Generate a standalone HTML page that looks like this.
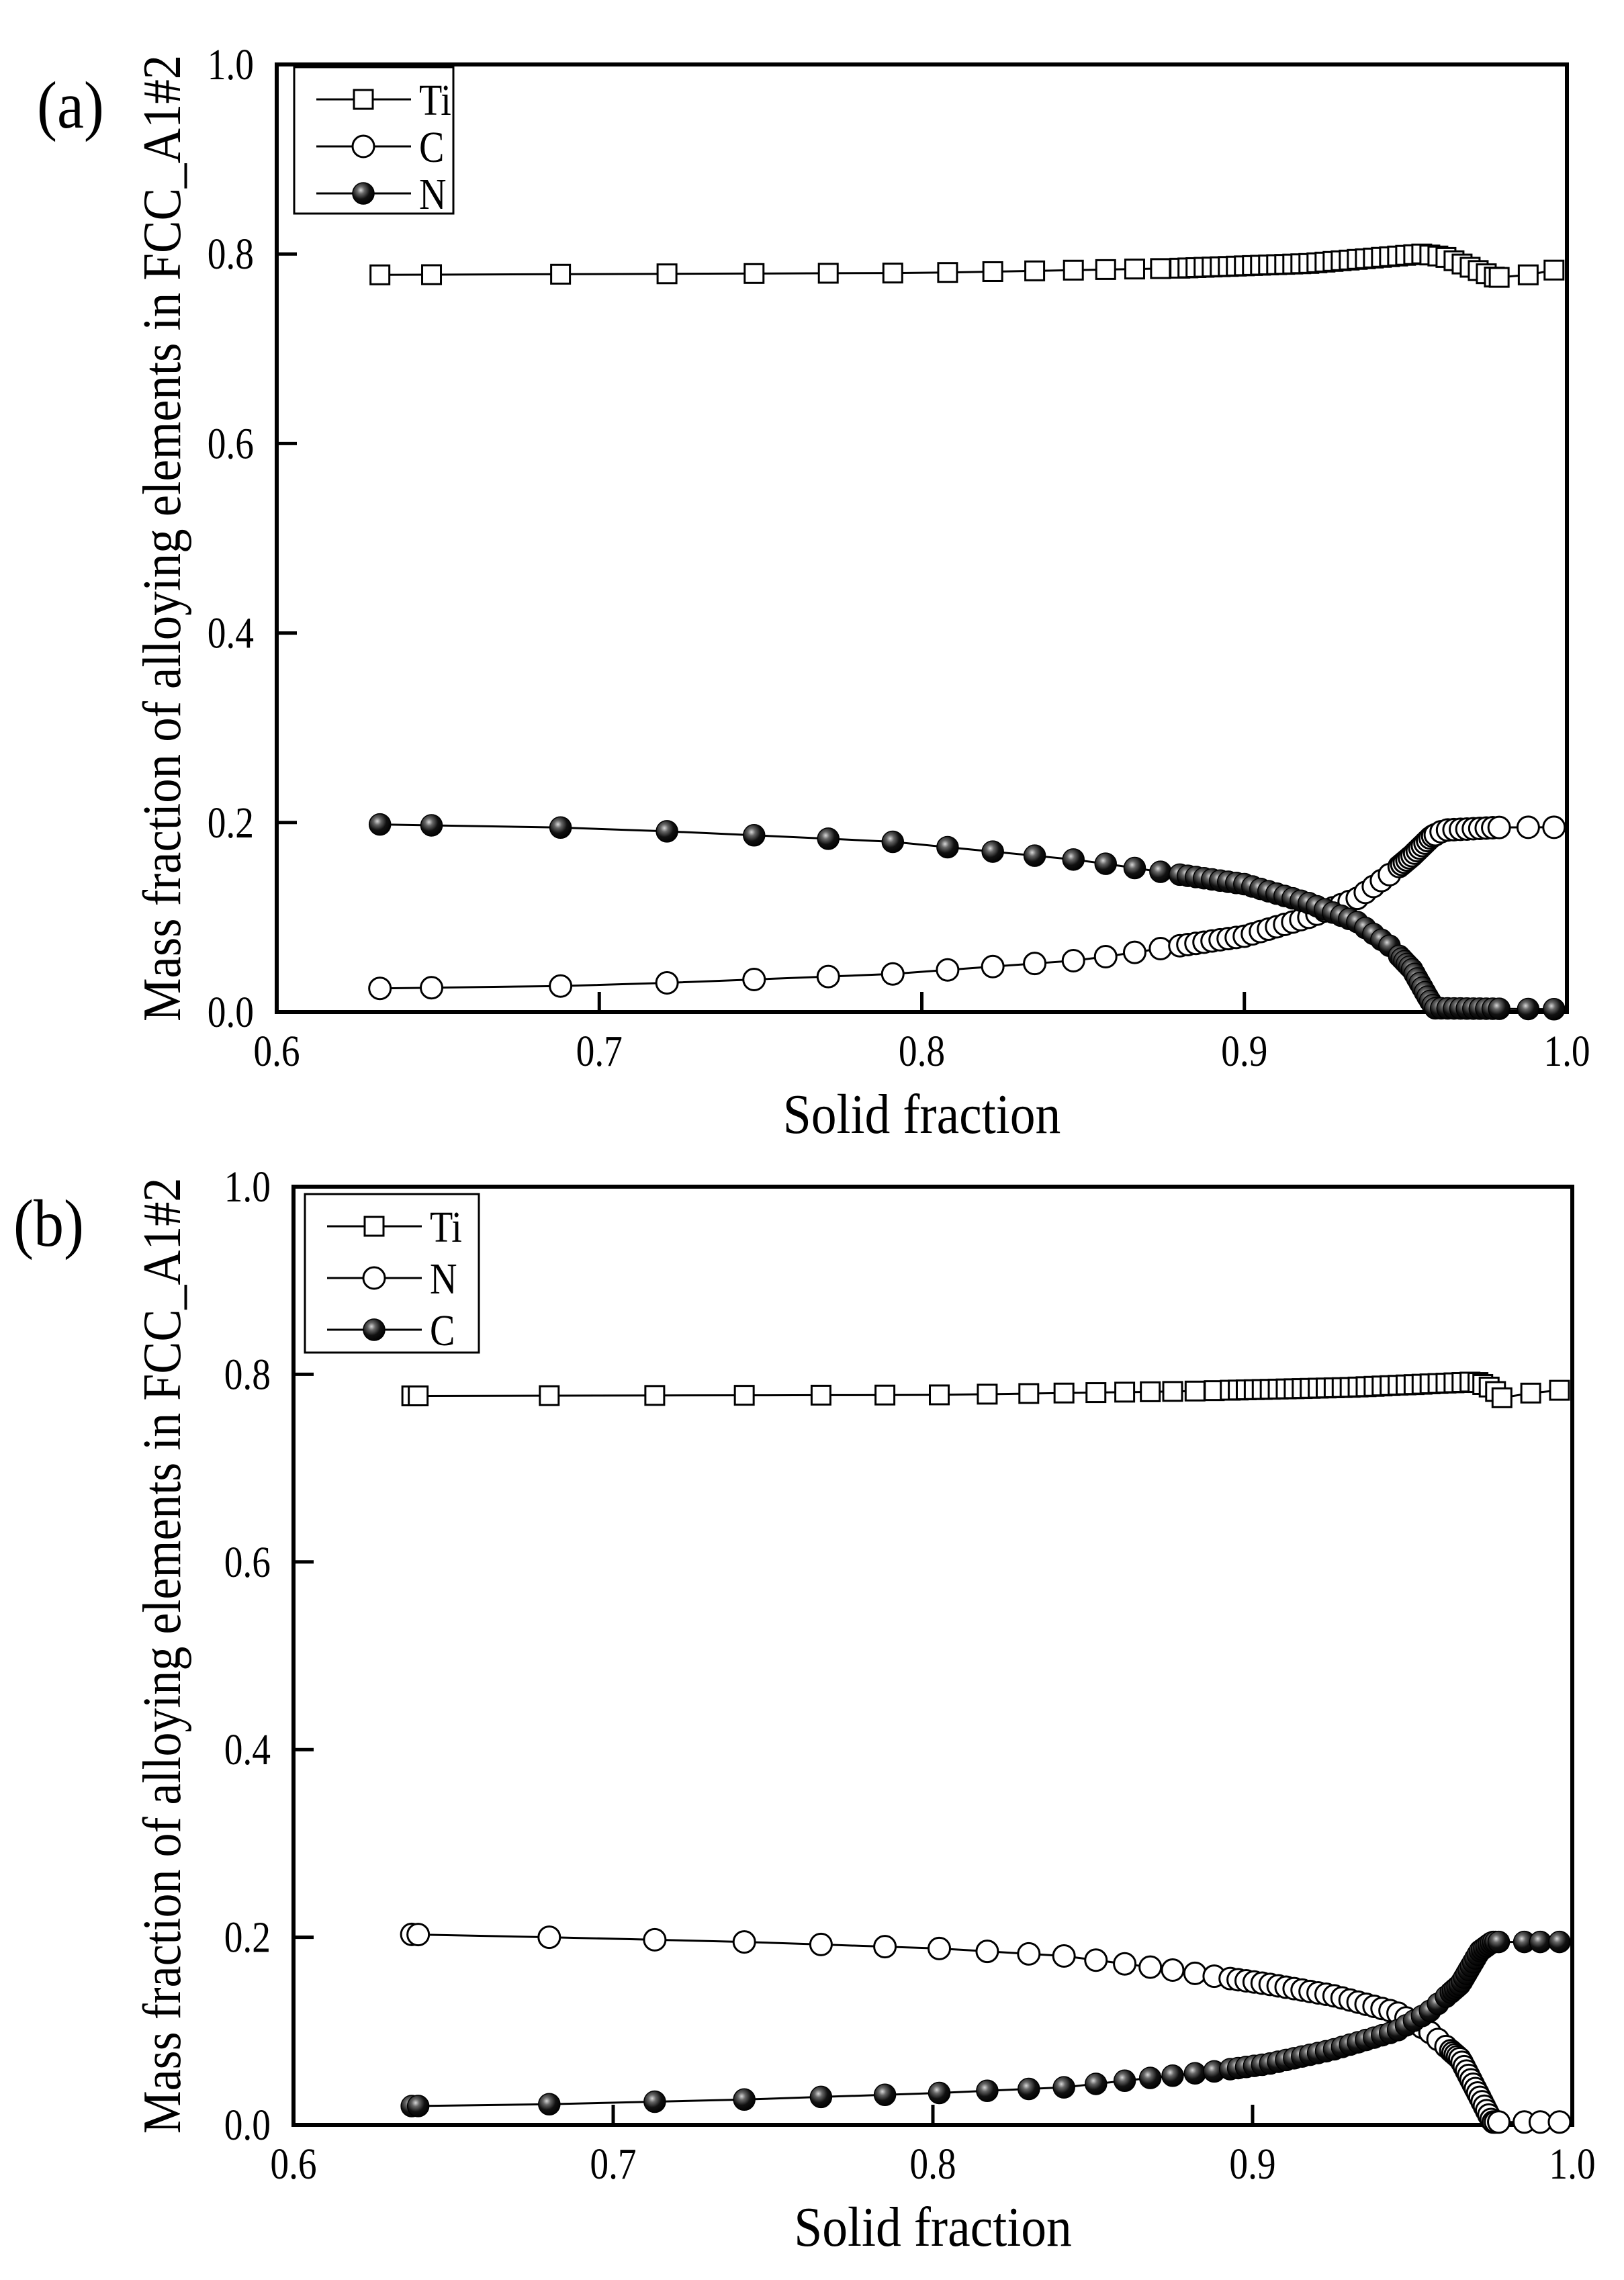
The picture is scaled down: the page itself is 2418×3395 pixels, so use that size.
<!DOCTYPE html>
<html><head><meta charset="utf-8">
<style>
html,body{margin:0;padding:0;background:#fff;}
svg{display:block;}
text{font-family:"Liberation Serif",serif;fill:#000;}
</style></head>
<body>
<svg id="s" width="2418" height="3395" viewBox="0 0 2418 3395" xmlns="http://www.w3.org/2000/svg">
<defs>
<radialGradient id="ball" cx="0.38" cy="0.35" r="0.7">
<stop offset="0" stop-color="#d8d8d8"/><stop offset="0.25" stop-color="#666"/><stop offset="0.6" stop-color="#111"/><stop offset="1" stop-color="#000"/>
</radialGradient>
</defs>
<g id="g"></g>
</svg>
<script>
var NS="http://www.w3.org/2000/svg",G=document.getElementById("g");
function el(t,a,txt){var e=document.createElementNS(NS,t);for(var k in a)e.setAttribute(k,a[k]);if(txt!==undefined)e.textContent=txt;G.appendChild(e);return e;}
function tx(x,y,s,fs,sx,anchor,rot){var tr="translate("+x+","+y+")"+(rot?" rotate(-90)":"")+" scale("+sx+",1)";
 return el("text",{x:0,y:0,"font-size":fs,"text-anchor":anchor||"start",transform:tr,"xml:space":"preserve"},s);}
function interp(anc,x){if(x<=anc[0][0])return anc[0][1];for(var i=1;i<anc.length;i++){if(x<=anc[i][0]){var a=anc[i-1],b=anc[i];return a[1]+(b[1]-a[1])*(x-a[0])/(b[0]-a[0]);}}return anc[anc.length-1][1];}
function marker(type,x,y){
 if(type=="sq")el("rect",{x:x-14,y:y-14,width:28,height:28,fill:"#fff",stroke:"#000","stroke-width":3});
 else if(type=="o")el("circle",{cx:x,cy:y,r:16,fill:"#fff",stroke:"#000","stroke-width":3});
 else el("circle",{cx:x,cy:y,r:16,fill:"url(#ball)",stroke:"#000","stroke-width":1.5});
}
function panel(P){
 var L=P.L,R=P.R,T=P.T,B=P.B;
 function X(v){return L+(v-0.6)/0.4*(R-L);} function Y(v){return B-v*(B-T);}
 el("rect",{x:L,y:T,width:R-L,height:B-T,fill:"none",stroke:"#000","stroke-width":6});
 for(var i=0;i<=5;i++){var v=i*0.2,y=Y(v);
  el("line",{x1:L,y1:y,x2:L+30,y2:y,stroke:"#000","stroke-width":5});
  tx(L-34,y+22,v.toFixed(1),66,0.84,"end");}
 for(var i=0;i<=4;i++){var v=0.6+i*0.1,x=X(v);
  el("line",{x1:x,y1:B,x2:x,y2:B-30,stroke:"#000","stroke-width":5});
  tx(x,B+80,v.toFixed(1),66,0.84,"middle");}
 tx((L+R)/2,B+180,"Solid fraction",84,0.9,"middle");
 tx(P.ylx,(T+B)/2,P.ylab,80,P.ysx,"middle",true);
 tx(P.lx,P.ly,P.lab,100,0.9,"start");
 P.series.forEach(function(s){
  var pts=s.xs.map(function(x){return [X(x),Y(interp(s.anc,x))];});
  el("polyline",{points:pts.map(function(p){return p.join(",");}).join(" "),fill:"none",stroke:"#000","stroke-width":3});
  pts.forEach(function(p){marker(s.m,p[0],p[1]);});
 });
 var lg=P.leg;
 el("rect",{x:lg.x,y:lg.y,width:lg.w,height:lg.h,fill:"#fff",stroke:"#000","stroke-width":3});
 lg.rows.forEach(function(r,i){var y=lg.r0+i*lg.dy;
  el("line",{x1:lg.x+33,y1:y,x2:lg.x+174,y2:y,stroke:"#000","stroke-width":3});
  marker(r[0],lg.x+103,y);
  tx(lg.x+186,y+23,r[1],66,0.85,"start");});
}
function range(a,b,st){var r=[];for(var x=a;x<=b+1e-9;x+=st)r.push(+x.toFixed(4));return r;}
var base=[0.632,0.648,0.688,0.721,0.748,0.771,0.791,0.808,0.822,0.835,0.847,0.857,0.866,0.874];
var xa=base.concat(range(0.88,0.9465,0.0025),range(0.948,0.9595,0.0008),range(0.961,0.979,0.002),[0.988,0.996]);
var xaTi=base.concat(range(0.88,0.978,0.0025),[0.979,0.988,0.996]);
panel({L:412,R:2333,T:96,B:1507,ylx:268,ysx:0.91,lx:55,ly:190,lab:"(a)",
 ylab:"Mass fraction of alloying elements in FCC_A1#2",
 leg:{x:438,y:100,w:237,h:218,r0:148,dy:70,rows:[["sq","Ti"],["o","C"],["b","N"]]},
 series:[
 {m:"sq",xs:xaTi,anc:[[0.632,0.778],[0.8,0.780],[0.88,0.785],[0.92,0.790],[0.955,0.800],[0.962,0.797],[0.978,0.775],[0.988,0.778],[0.996,0.783]]},
 {m:"o",xs:xa,anc:[[0.632,0.025],[0.7,0.028],[0.79,0.04],[0.85,0.055],[0.88,0.07],[0.9,0.08],[0.92,0.1],[0.935,0.12],[0.945,0.145],[0.952,0.165],[0.958,0.185],[0.962,0.192],[0.98,0.195],[0.996,0.195]]},
 {m:"b",xs:xa,anc:[[0.632,0.198],[0.7,0.194],[0.79,0.18],[0.85,0.16],[0.88,0.145],[0.9,0.135],[0.92,0.115],[0.935,0.095],[0.945,0.07],[0.952,0.045],[0.957,0.015],[0.959,0.004],[0.996,0.003]]}
 ]});
var bb=[0.637,0.639,0.68,0.713,0.741,0.765,0.785,0.802,0.817,0.83,0.841,0.851,0.86,0.868,0.875,0.882,0.888];
var xb=bb.concat(range(0.893,0.9605,0.0025),range(0.962,0.976,0.0007),[0.977,0.985,0.99,0.996]);
var xbTi=bb.concat(range(0.893,0.9705,0.0025),[0.972,0.974,0.976,0.978,0.987,0.996]);
panel({L:437,R:2341,T:1767,B:3164,ylx:268,ysx:0.9,lx:20,ly:1855,lab:"(b)",
 ylab:"Mass fraction of  alloying elements in FCC_A1#2",
 leg:{x:454,y:1778,w:259,h:236,r0:1826,dy:77,rows:[["sq","Ti"],["o","N"],["b","C"]]},
 series:[
 {m:"sq",xs:xbTi,anc:[[0.637,0.777],[0.8,0.778],[0.88,0.782],[0.93,0.786],[0.97,0.792],[0.975,0.785],[0.978,0.775],[0.987,0.78],[0.996,0.783]]},
 {m:"o",xs:xb,anc:[[0.637,0.203],[0.68,0.2],[0.741,0.195],[0.802,0.188],[0.841,0.18],[0.875,0.165],[0.905,0.15],[0.925,0.138],[0.945,0.12],[0.955,0.1],[0.965,0.07],[0.971,0.03],[0.975,0.003],[0.996,0.003]]},
 {m:"b",xs:xb,anc:[[0.637,0.02],[0.68,0.022],[0.741,0.027],[0.802,0.034],[0.841,0.04],[0.868,0.05],[0.888,0.057],[0.905,0.065],[0.925,0.08],[0.945,0.1],[0.955,0.12],[0.965,0.15],[0.971,0.185],[0.975,0.195],[0.996,0.195]]}
 ]});
</script>
</body></html>
